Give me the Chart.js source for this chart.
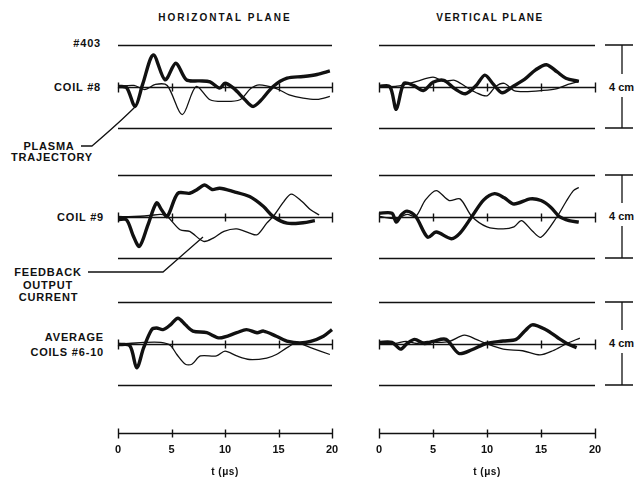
<!DOCTYPE html>
<html>
<head>
<meta charset="utf-8">
<script src="https://cdn.jsdelivr.net/npm/chart.js@4.4.0/dist/chart.umd.min.js"></script>
<style>
  body { margin: 0; background: #fff; }
  #page { position: relative; width: 639px; height: 479px; overflow: hidden; background: #fff; }
  canvas { position: absolute; }
  .lbl { position: absolute; font: bold 11px "Liberation Sans", Arial, sans-serif; color: #111; line-height: 12px; white-space: nowrap; letter-spacing: 0.8px; }
  .r { text-align: right; }
  .c { text-align: center; }
  svg { position: absolute; left: 0; top: 0; }
</style>
</head>
<body>
<div id="page">
  <canvas id="h8" width="238" height="99" style="left:106px;top:37px"></canvas>
  <canvas id="v8" width="240" height="99" style="left:367px;top:37px"></canvas>
  <canvas id="h9" width="238" height="99" style="left:106px;top:167px"></canvas>
  <canvas id="v9" width="240" height="99" style="left:367px;top:167px"></canvas>
  <canvas id="hav" width="238" height="99" style="left:106px;top:294px"></canvas>
  <canvas id="vav" width="240" height="99" style="left:367px;top:294px"></canvas>
  <canvas id="hAxis" width="238" height="61" style="left:106px;top:418px"></canvas>
  <canvas id="vAxis" width="240" height="61" style="left:367px;top:418px"></canvas>

  <div class="lbl c" style="left:125px;top:12px;width:200px;font-size:10px;letter-spacing:2px">HORIZONTAL PLANE</div>
  <div class="lbl c" style="left:390px;top:12px;width:200px;font-size:10px;letter-spacing:1.5px">VERTICAL PLANE</div>

  <div class="lbl r" style="left:0;top:37px;width:101px">#403</div>
  <div class="lbl r" style="left:0;top:81px;width:101px">COIL #8</div>
  <div class="lbl c" style="left:0;top:140px;width:98px">PLASMA</div>
  <div class="lbl c" style="left:0;top:151px;width:104px">TRAJECTORY</div>

  <div class="lbl r" style="left:0;top:211px;width:104px">COIL #9</div>
  <div class="lbl c" style="left:0;top:266px;width:96px">FEEDBACK</div>
  <div class="lbl c" style="left:0;top:279px;width:96px">OUTPUT</div>
  <div class="lbl c" style="left:0;top:291px;width:97px">CURRENT</div>

  <div class="lbl r" style="left:0;top:331px;width:104px">AVERAGE</div>
  <div class="lbl r" style="left:0;top:346px;width:104px">COILS #6-10</div>

  <div class="lbl" style="left:609px;top:81px;letter-spacing:0">4 cm</div>
  <div class="lbl" style="left:609px;top:210px;letter-spacing:0">4 cm</div>
  <div class="lbl" style="left:609px;top:337px;letter-spacing:0">4 cm</div>

  <div class="lbl c" style="left:175px;top:466px;width:100px;font-size:10px;letter-spacing:0.5px">t (μs)</div>
  <div class="lbl c" style="left:437px;top:466px;width:100px;font-size:10px;letter-spacing:0.5px">t (μs)</div>

  <svg width="639" height="479" fill="none" stroke="#111" stroke-width="1.3">
    <path d="M 81 146 L 92 146 C 106 134 122 120 136 106"/>
    <path d="M 88 272 L 163 272 L 203 237"/>
    <g id="bars"></g>
  </svg>
</div>

<script>
// time axis, microseconds
var tTicks = [0, 5, 10, 15, 20];

// HORIZONTAL PLANE, coil #8 (cm)
var h8TrajT  = [0, 0.8, 1.6, 2.3, 3.3, 4.4, 5.4, 6.4, 7.6, 8.6, 9.5, 10.0, 10.8, 11.8, 12.6, 13.3, 14.5, 15.8, 17.3, 18.6, 19.8];
var h8TrajCm = [0, -0.05, -0.96, 0.1, 1.52, 0.32, 1.12, 0.32, 0.27, 0.22, -0.08, 0.16, -0.08, -0.6, -0.96, -0.7, 0, 0.4, 0.48, 0.58, 0.75];
var h8FbT    = [0, 1.5, 2.5, 3.5, 4.6, 6.0, 7.3, 8.6, 9.9, 11.4, 12.4, 13.2, 14.8, 16.0, 17.3, 18.6, 19.8];
var h8FbCm   = [0, 0.05, -0.15, 0.1, 0.05, -1.36, 0.0, -0.64, -0.72, -0.64, -0.1, 0.08, -0.1, -0.4, -0.56, -0.62, -0.48];

// VERTICAL PLANE, coil #8
var v8TrajT  = [0, 1.0, 1.6, 2.3, 3.2, 4.1, 5.0, 6.0, 7.0, 8.0, 9.0, 9.8, 10.6, 11.4, 12.4, 13.5, 14.5, 15.5, 16.5, 17.3, 18.5];
var v8TrajCm = [0, 0, -1.1, 0.15, 0.05, -0.2, 0.2, 0.3, -0.1, -0.35, 0.05, 0.55, 0.1, -0.3, 0, 0.35, 0.8, 1.05, 0.7, 0.4, 0.25];
var v8FbT    = [0, 1.5, 2.5, 3.5, 5.0, 6.0, 7.0, 8.0, 9.0, 10.0, 10.8, 11.6, 12.5, 13.5, 15.0, 16.5, 17.5, 18.5];
var v8FbCm   = [0, 0, 0.1, 0.25, 0.45, 0.25, 0.3, 0, -0.3, -0.45, 0, 0.15, -0.2, -0.25, -0.2, -0.1, 0.1, 0.25];

// HORIZONTAL PLANE, coil #9
var h9TrajT  = [0, 0.8, 1.4, 2.0, 2.8, 3.6, 4.1, 4.6, 5.6, 6.7, 7.4, 8.1, 8.8, 9.5, 10.8, 12.3, 13.6, 14.5, 15.8, 17.3, 18.4];
var h9TrajCm = [-0.15, -0.16, -0.9, -1.44, -0.4, 0.65, 0.3, 0.0, 1.12, 1.12, 1.3, 1.52, 1.3, 1.36, 1.2, 0.96, 0.48, 0, -0.32, -0.3, -0.2];
var h9FbT    = [0, 1.5, 3.0, 4.0, 4.6, 5.8, 6.7, 8.0, 8.9, 9.9, 11.1, 12.3, 13.0, 13.9, 14.5, 15.5, 16.2, 17.2, 18.0, 18.8];
var h9FbCm   = [0, 0, 0.05, 0.1, 0, -0.64, -0.72, -1.2, -1.04, -0.72, -0.6, -0.8, -0.88, -0.32, 0, 0.72, 1.08, 0.72, 0.32, 0.08];

// VERTICAL PLANE, coil #9
var v9TrajT  = [0, 1.2, 1.6, 2.1, 2.6, 3.4, 4.5, 5.3, 6.7, 7.5, 8.6, 9.7, 10.7, 11.6, 12.5, 14.0, 15.0, 15.9, 16.7, 17.6, 18.5];
var v9TrajCm = [0.16, 0.16, -0.27, 0.1, 0.26, 0, -1.0, -0.75, -1.07, -0.8, 0, 0.8, 1.1, 0.9, 0.6, 0.85, 0.77, 0.45, 0, -0.2, -0.27];
var v9FbT    = [0, 1.6, 2.6, 3.4, 4.3, 5.3, 6.5, 7.5, 8.6, 10.0, 11.5, 12.5, 13.2, 14.2, 15.0, 16.5, 17.3, 18.0, 18.5];
var v9FbCm   = [0, -0.1, 0.1, 0, 0.8, 1.25, 0.77, 0.85, 0, -0.5, -0.6, -0.5, -0.2, -0.7, -1.0, 0, 0.7, 1.25, 1.4];

// HORIZONTAL PLANE, average coils #6-10
var havTrajT  = [0, 1.1, 1.75, 2.4, 3.15, 3.6, 4.2, 4.9, 5.6, 6.3, 7.0, 8.3, 9.5, 11.1, 12.0, 13.0, 13.6, 14.8, 15.9, 17.0, 18.0, 19.2, 20.0];
var havTrajCm = [-0.05, -0.1, -1.17, -0.2, 0.67, 0.75, 0.67, 0.9, 1.22, 0.9, 0.6, 0.52, 0.27, 0.52, 0.67, 0.52, 0.6, 0.35, 0.1, 0.03, 0.1, 0.35, 0.67];
var havFbT    = [0, 1.0, 2.4, 4.0, 4.9, 5.5, 6.3, 6.9, 7.7, 9.2, 10.0, 11.1, 12.3, 13.9, 14.8, 15.8, 16.7, 18.0, 19.8];
var havFbCm   = [0, 0, 0.05, 0.05, -0.1, -0.53, -1.0, -1.0, -0.6, -0.6, -0.37, -0.6, -0.77, -0.7, -0.53, -0.2, 0.03, -0.2, -0.53];

// VERTICAL PLANE, average coils #6-10
var vavTrajT  = [0, 1.2, 2.0, 2.6, 3.3, 4.2, 5.0, 6.2, 7.4, 8.6, 9.9, 11.5, 12.7, 13.5, 14.2, 15.5, 16.5, 17.4, 18.3];
var vavTrajCm = [0.05, 0.05, -0.27, 0, 0.2, 0, 0.1, 0.2, -0.48, -0.3, 0, 0.12, 0.2, 0.6, 0.9, 0.65, 0.3, 0, -0.2];
var vavFbT    = [0, 1.5, 2.5, 3.5, 4.5, 5.5, 6.5, 7.9, 9.0, 9.9, 11.5, 13.3, 14.9, 16.1, 17.4, 18.6];
var vavFbCm   = [0, 0, 0.1, 0, 0.1, 0.05, 0.1, 0.4, 0.2, 0, -0.27, -0.35, -0.55, -0.35, 0, 0.26];

var ink = '#111';

function pts(ts, vs) {
	return ts.map((t, i) => ({ x: t, y: vs[i] }));
}

// draws the scope frame: top/bottom rules at +-2 cm and the zero line with crossing ticks
var scopeFrame = {
	id: 'scopeFrame',
	beforeDatasetsDraw(chart, args, opts) {
		var ctx = chart.ctx, x = chart.scales.x, y = chart.scales.y;
		var x0 = x.getPixelForValue(0), x1 = x.getPixelForValue(20);
		ctx.save();
		ctx.strokeStyle = ink;
		ctx.lineWidth = 1.4;
		ctx.beginPath();
		if (opts.bounds) {
			[-2, 2].forEach(v => {
				var yy = Math.round(y.getPixelForValue(v)) + 0.5;
				ctx.moveTo(x0, yy); ctx.lineTo(x1, yy);
			});
		}
		var yc = Math.round(y.getPixelForValue(0)) + 0.5;
		ctx.moveTo(x0, yc); ctx.lineTo(x1, yc);
		tTicks.forEach(t => {
			var xx = Math.round(x.getPixelForValue(t)) + 0.5;
			var h = (t === 0 || t === 20) ? 5 : 4;
			ctx.moveTo(xx, yc - h); ctx.lineTo(xx, yc + h);
		});
		ctx.stroke();
		ctx.restore();
	}
};

function makePanel(id, trajT, trajCm, fbT, fbCm) {
	return new Chart(document.getElementById(id), {
		type: 'line',
		data: {
			datasets: [{
				data: pts(trajT, trajCm),
				borderColor: ink,
				borderWidth: 3.4,
				tension: 0.3,
				pointRadius: 0,
				clip: false
			}, {
				data: pts(fbT, fbCm),
				borderColor: ink,
				borderWidth: 1.3,
				tension: 0.3,
				pointRadius: 0,
				clip: false
			}]
		},
		options: {
			responsive: false,
			animation: false,
			layout: { padding: { left: 12, right: 12, top: 8, bottom: 8 } },
			plugins: {
				legend: { display: false },
				tooltip: { enabled: false },
				scopeFrame: { bounds: true }
			},
			scales: {
				x: { type: 'linear', min: 0, max: 20, display: false },
				y: { min: -2, max: 2, display: false }
			}
		},
		plugins: [scopeFrame]
	});
}

function makeTimeAxis(id) {
	return new Chart(document.getElementById(id), {
		type: 'line',
		data: { datasets: [] },
		options: {
			responsive: false,
			animation: false,
			layout: { padding: { left: 12, right: 12, top: 5, bottom: 36 } },
			plugins: {
				legend: { display: false },
				tooltip: { enabled: false },
				scopeFrame: { bounds: false }
			},
			scales: {
				x: {
					type: 'linear', min: 0, max: 20,
					position: { y: 0 },
					grid: { display: false },
					border: { display: false },
					ticks: {
						stepSize: 5,
						color: ink,
						padding: 2,
						font: { family: 'Liberation Sans', weight: 'bold', size: 11 }
					}
				},
				y: { min: -1, max: 1, display: false }
			}
		},
		plugins: [scopeFrame]
	});
}

makePanel('h8', h8TrajT, h8TrajCm, h8FbT, h8FbCm);
makePanel('v8', v8TrajT, v8TrajCm, v8FbT, v8FbCm);
makePanel('h9', h9TrajT, h9TrajCm, h9FbT, h9FbCm);
makePanel('v9', v9TrajT, v9TrajCm, v9FbT, v9FbCm);
makePanel('hav', havTrajT, havTrajCm, havFbT, havFbCm);
makePanel('vav', vavTrajT, vavTrajCm, vavFbT, vavFbCm);
makeTimeAxis('hAxis');
makeTimeAxis('vAxis');

// "4 cm" scale bars beside the vertical-plane panels
var barRows = [[45, 87, 128], [175, 216, 258], [302, 343, 385]];
var bars = document.getElementById('bars');
barRows.forEach(r => {
	var d = 'M 605 ' + r[0] + ' L 633 ' + r[0] + ' M 605 ' + r[2] + ' L 633 ' + r[2] +
		' M 622 ' + r[0] + ' L 622 ' + (r[1] - 13) + ' M 622 ' + (r[1] + 10) + ' L 622 ' + r[2];
	var p = document.createElementNS('http://www.w3.org/2000/svg', 'path');
	p.setAttribute('d', d);
	bars.appendChild(p);
});
</script>
</body>
</html>
